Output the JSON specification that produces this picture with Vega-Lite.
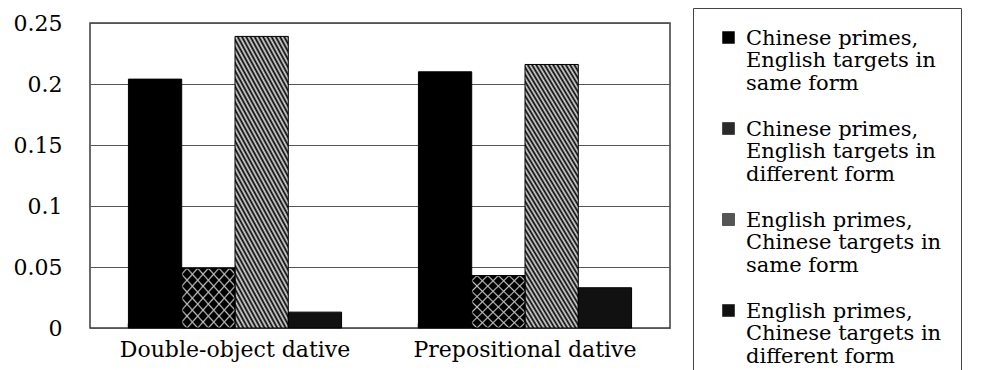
{
  "$schema": "https://vega.github.io/schema/vega-lite/v6.json",
  "width": 580,
  "height": 305,
  "autosize": {"type": "none"},
  "padding": {"left": 90, "top": 23, "right": 335, "bottom": 42},
  "background": "white",
  "config": {"view": {"stroke": "#3a3a3a", "strokeWidth": 1.5}, "font": "DejaVu Serif"},
  "data": {"values": [
    {"construction": "Double-object dative", "condition": "Chinese primes, English targets in same form", "rate": 0.204},
    {"construction": "Double-object dative", "condition": "Chinese primes, English targets in different form", "rate": 0.049},
    {"construction": "Double-object dative", "condition": "English primes, Chinese targets in same form", "rate": 0.239},
    {"construction": "Double-object dative", "condition": "English primes, Chinese targets in different form", "rate": 0.013},
    {"construction": "Prepositional dative", "condition": "Chinese primes, English targets in same form", "rate": 0.210},
    {"construction": "Prepositional dative", "condition": "Chinese primes, English targets in different form", "rate": 0.043},
    {"construction": "Prepositional dative", "condition": "English primes, Chinese targets in same form", "rate": 0.216},
    {"construction": "Prepositional dative", "condition": "English primes, Chinese targets in different form", "rate": 0.033}
  ]},
  "layer": [
    {
      "mark": {"type": "bar", "stroke": "#000000", "strokeWidth": 1},
      "encoding": {
        "x": {
          "field": "construction", "type": "nominal",
          "sort": ["Double-object dative", "Prepositional dative"],
          "scale": {"paddingInner": 0.265, "paddingOuter": 0.1325},
          "axis": {"title": null, "labelAngle": 0, "labelFont": "DejaVu Serif", "labelFontSize": 22, "labelColor": "#000000", "labelPadding": 16, "labelLimit": 400, "domain": false, "ticks": true, "tickSize": -5, "tickWidth": 1.5, "tickColor": "#444444", "bandPosition": 0, "grid": false}
        },
        "xOffset": {
          "field": "condition", "type": "nominal",
          "scale": {"domain": ["Chinese primes, English targets in same form", "Chinese primes, English targets in different form", "English primes, Chinese targets in same form", "English primes, Chinese targets in different form"], "paddingInner": 0, "paddingOuter": 0}
        },
        "y": {
          "field": "rate", "type": "quantitative",
          "scale": {"domain": [0, 0.25], "nice": false},
          "axis": {"title": null, "values": [0, 0.05, 0.1, 0.15, 0.2, 0.25], "format": "~g", "labelFont": "DejaVu Serif", "labelFontSize": 22, "labelColor": "#000000", "labelPadding": 28, "domain": false, "ticks": false, "grid": true, "gridColor": "#555555", "gridWidth": 1}
        },
        "color": {
          "condition": [
            {"test": "datum.condition === 'English primes, Chinese targets in same form'", "value": {"gradient": "linear", "x1": 0, "y1": 1, "x2": 0.4046, "y2": -0.2006, "stops": [
              {"offset": 0, "color": "#000000"}, {"offset": 0.01, "color": "#dcdcdc"}, {"offset": 0.02, "color": "#000000"}, {"offset": 0.03, "color": "#dcdcdc"}, {"offset": 0.04, "color": "#000000"}, {"offset": 0.05, "color": "#dcdcdc"}, {"offset": 0.06, "color": "#000000"}, {"offset": 0.07, "color": "#dcdcdc"}, {"offset": 0.08, "color": "#000000"}, {"offset": 0.09, "color": "#dcdcdc"},
              {"offset": 0.10, "color": "#000000"}, {"offset": 0.11, "color": "#dcdcdc"}, {"offset": 0.12, "color": "#000000"}, {"offset": 0.13, "color": "#dcdcdc"}, {"offset": 0.14, "color": "#000000"}, {"offset": 0.15, "color": "#dcdcdc"}, {"offset": 0.16, "color": "#000000"}, {"offset": 0.17, "color": "#dcdcdc"}, {"offset": 0.18, "color": "#000000"}, {"offset": 0.19, "color": "#dcdcdc"},
              {"offset": 0.20, "color": "#000000"}, {"offset": 0.21, "color": "#dcdcdc"}, {"offset": 0.22, "color": "#000000"}, {"offset": 0.23, "color": "#dcdcdc"}, {"offset": 0.24, "color": "#000000"}, {"offset": 0.25, "color": "#dcdcdc"}, {"offset": 0.26, "color": "#000000"}, {"offset": 0.27, "color": "#dcdcdc"}, {"offset": 0.28, "color": "#000000"}, {"offset": 0.29, "color": "#dcdcdc"},
              {"offset": 0.30, "color": "#000000"}, {"offset": 0.31, "color": "#dcdcdc"}, {"offset": 0.32, "color": "#000000"}, {"offset": 0.33, "color": "#dcdcdc"}, {"offset": 0.34, "color": "#000000"}, {"offset": 0.35, "color": "#dcdcdc"}, {"offset": 0.36, "color": "#000000"}, {"offset": 0.37, "color": "#dcdcdc"}, {"offset": 0.38, "color": "#000000"}, {"offset": 0.39, "color": "#dcdcdc"},
              {"offset": 0.40, "color": "#000000"}, {"offset": 0.41, "color": "#dcdcdc"}, {"offset": 0.42, "color": "#000000"}, {"offset": 0.43, "color": "#dcdcdc"}, {"offset": 0.44, "color": "#000000"}, {"offset": 0.45, "color": "#dcdcdc"}, {"offset": 0.46, "color": "#000000"}, {"offset": 0.47, "color": "#dcdcdc"}, {"offset": 0.48, "color": "#000000"}, {"offset": 0.49, "color": "#dcdcdc"},
              {"offset": 0.50, "color": "#000000"}, {"offset": 0.51, "color": "#dcdcdc"}, {"offset": 0.52, "color": "#000000"}, {"offset": 0.53, "color": "#dcdcdc"}, {"offset": 0.54, "color": "#000000"}, {"offset": 0.55, "color": "#dcdcdc"}, {"offset": 0.56, "color": "#000000"}, {"offset": 0.57, "color": "#dcdcdc"}, {"offset": 0.58, "color": "#000000"}, {"offset": 0.59, "color": "#dcdcdc"},
              {"offset": 0.60, "color": "#000000"}, {"offset": 0.61, "color": "#dcdcdc"}, {"offset": 0.62, "color": "#000000"}, {"offset": 0.63, "color": "#dcdcdc"}, {"offset": 0.64, "color": "#000000"}, {"offset": 0.65, "color": "#dcdcdc"}, {"offset": 0.66, "color": "#000000"}, {"offset": 0.67, "color": "#dcdcdc"}, {"offset": 0.68, "color": "#000000"}, {"offset": 0.69, "color": "#dcdcdc"},
              {"offset": 0.70, "color": "#000000"}, {"offset": 0.71, "color": "#dcdcdc"}, {"offset": 0.72, "color": "#000000"}, {"offset": 0.73, "color": "#dcdcdc"}, {"offset": 0.74, "color": "#000000"}, {"offset": 0.75, "color": "#dcdcdc"}, {"offset": 0.76, "color": "#000000"}, {"offset": 0.77, "color": "#dcdcdc"}, {"offset": 0.78, "color": "#000000"}, {"offset": 0.79, "color": "#dcdcdc"},
              {"offset": 0.80, "color": "#000000"}, {"offset": 0.81, "color": "#dcdcdc"}, {"offset": 0.82, "color": "#000000"}, {"offset": 0.83, "color": "#dcdcdc"}, {"offset": 0.84, "color": "#000000"}, {"offset": 0.85, "color": "#dcdcdc"}, {"offset": 0.86, "color": "#000000"}, {"offset": 0.87, "color": "#dcdcdc"}, {"offset": 0.88, "color": "#000000"}, {"offset": 0.89, "color": "#dcdcdc"},
              {"offset": 0.90, "color": "#000000"}, {"offset": 0.91, "color": "#dcdcdc"}, {"offset": 0.92, "color": "#000000"}, {"offset": 0.93, "color": "#dcdcdc"}, {"offset": 0.94, "color": "#000000"}, {"offset": 0.95, "color": "#dcdcdc"}, {"offset": 0.96, "color": "#000000"}, {"offset": 0.97, "color": "#dcdcdc"}, {"offset": 0.98, "color": "#000000"}, {"offset": 0.99, "color": "#dcdcdc"},
              {"offset": 1, "color": "#000000"}
            ]}},
            {"test": "datum.condition === 'Chinese primes, English targets in different form'", "value": {"gradient": "linear", "x1": 0, "y1": 1, "x2": 1, "y2": 0, "stops": [
              {"offset": 0, "color": "#000000"},
              {"offset": 0.035, "color": "#000000"}, {"offset": 0.05, "color": "#bdbdbd"}, {"offset": 0.065, "color": "#000000"},
              {"offset": 0.135, "color": "#000000"}, {"offset": 0.15, "color": "#bdbdbd"}, {"offset": 0.165, "color": "#000000"},
              {"offset": 0.235, "color": "#000000"}, {"offset": 0.25, "color": "#bdbdbd"}, {"offset": 0.265, "color": "#000000"},
              {"offset": 0.335, "color": "#000000"}, {"offset": 0.35, "color": "#bdbdbd"}, {"offset": 0.365, "color": "#000000"},
              {"offset": 0.435, "color": "#000000"}, {"offset": 0.45, "color": "#bdbdbd"}, {"offset": 0.465, "color": "#000000"},
              {"offset": 0.535, "color": "#000000"}, {"offset": 0.55, "color": "#bdbdbd"}, {"offset": 0.565, "color": "#000000"},
              {"offset": 0.635, "color": "#000000"}, {"offset": 0.65, "color": "#bdbdbd"}, {"offset": 0.665, "color": "#000000"},
              {"offset": 0.735, "color": "#000000"}, {"offset": 0.75, "color": "#bdbdbd"}, {"offset": 0.765, "color": "#000000"},
              {"offset": 0.835, "color": "#000000"}, {"offset": 0.85, "color": "#bdbdbd"}, {"offset": 0.865, "color": "#000000"},
              {"offset": 0.935, "color": "#000000"}, {"offset": 0.95, "color": "#bdbdbd"}, {"offset": 0.965, "color": "#000000"},
              {"offset": 1, "color": "#000000"}
            ]}}
          ],
          "field": "condition", "type": "nominal",
          "scale": {
            "domain": ["Chinese primes, English targets in same form", "Chinese primes, English targets in different form", "English primes, Chinese targets in same form", "English primes, Chinese targets in different form"],
            "range": ["#000000", "#2a2a2a", "#555555", "#111111"]
          },
          "legend": {
            "title": null, "orient": "none", "legendX": 603, "legendY": -15, "direction": "vertical",
            "symbolType": "square", "symbolSize": 144, "symbolStrokeColor": "#000000", "symbolStrokeWidth": 0.5, "symbolOffset": 6,
            "labelFont": "DejaVu Serif", "labelFontSize": 21, "labelColor": "#000000", "labelLimit": 400, "labelOffset": 7,
            "labelBaseline": "top",
            "labelExpr": "split(replace(replace(datum.label, ', ', ',|'), ' in ', ' in|'), '|')",
            "rowPadding": 24, "padding": 19, "strokeColor": "#444444", "fillColor": "#ffffff",
            "encode": {"labels": {"update": {"dy": {"value": -10}, "lineHeight": {"value": 22.5}}}}
          }
        }
      }
    },
    {
      "transform": [{"filter": "datum.condition === 'Chinese primes, English targets in different form'"}],
      "mark": {"type": "bar", "stroke": "#000000", "strokeWidth": 1, "fill": {"gradient": "linear", "x1": 0, "y1": 0, "x2": 1, "y2": 1, "stops": [
        {"offset": 0, "color": "rgba(189,189,189,0)"},
        {"offset": 0.035, "color": "rgba(189,189,189,0)"}, {"offset": 0.05, "color": "#bdbdbd"}, {"offset": 0.065, "color": "rgba(189,189,189,0)"},
        {"offset": 0.135, "color": "rgba(189,189,189,0)"}, {"offset": 0.15, "color": "#bdbdbd"}, {"offset": 0.165, "color": "rgba(189,189,189,0)"},
        {"offset": 0.235, "color": "rgba(189,189,189,0)"}, {"offset": 0.25, "color": "#bdbdbd"}, {"offset": 0.265, "color": "rgba(189,189,189,0)"},
        {"offset": 0.335, "color": "rgba(189,189,189,0)"}, {"offset": 0.35, "color": "#bdbdbd"}, {"offset": 0.365, "color": "rgba(189,189,189,0)"},
        {"offset": 0.435, "color": "rgba(189,189,189,0)"}, {"offset": 0.45, "color": "#bdbdbd"}, {"offset": 0.465, "color": "rgba(189,189,189,0)"},
        {"offset": 0.535, "color": "rgba(189,189,189,0)"}, {"offset": 0.55, "color": "#bdbdbd"}, {"offset": 0.565, "color": "rgba(189,189,189,0)"},
        {"offset": 0.635, "color": "rgba(189,189,189,0)"}, {"offset": 0.65, "color": "#bdbdbd"}, {"offset": 0.665, "color": "rgba(189,189,189,0)"},
        {"offset": 0.735, "color": "rgba(189,189,189,0)"}, {"offset": 0.75, "color": "#bdbdbd"}, {"offset": 0.765, "color": "rgba(189,189,189,0)"},
        {"offset": 0.835, "color": "rgba(189,189,189,0)"}, {"offset": 0.85, "color": "#bdbdbd"}, {"offset": 0.865, "color": "rgba(189,189,189,0)"},
        {"offset": 0.935, "color": "rgba(189,189,189,0)"}, {"offset": 0.95, "color": "#bdbdbd"}, {"offset": 0.965, "color": "rgba(189,189,189,0)"},
        {"offset": 1, "color": "rgba(189,189,189,0)"}
      ]}},
      "encoding": {
        "x": {"field": "construction", "type": "nominal", "sort": ["Double-object dative", "Prepositional dative"]},
        "xOffset": {"field": "condition", "type": "nominal"},
        "y": {"field": "rate", "type": "quantitative"}
      }
    }
  ]
}
